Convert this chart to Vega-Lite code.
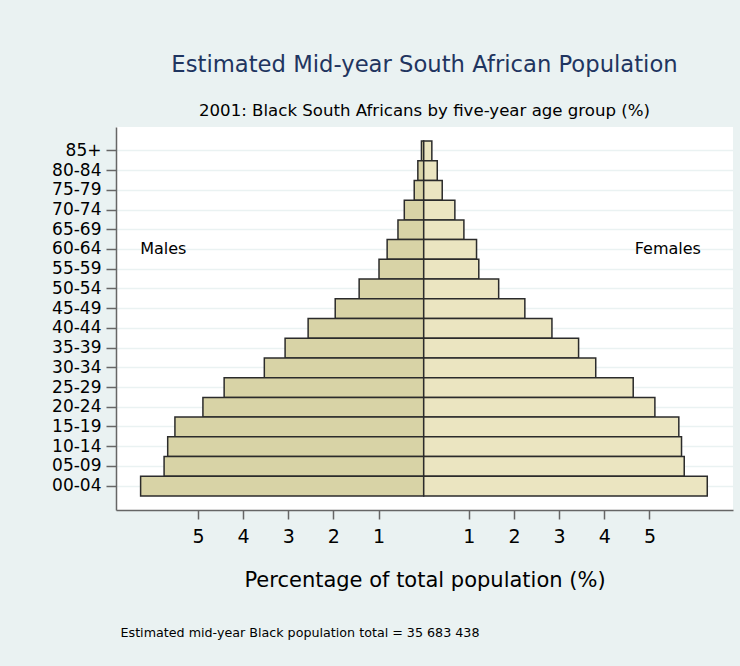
{
  "$schema": "https://vega.github.io/schema/vega-lite/v6.json",
  "width": 617,
  "height": 383,
  "autosize": {"type": "none"},
  "padding": {"left": 116, "top": 127, "right": 7, "bottom": 156},
  "background": "#eaf2f2",
  "config": {
    "view": {"fill": "white", "stroke": null},
    "font": "DejaVu Sans"
  },
  "title": {
    "text": "Estimated Mid-year South African Population",
    "subtitle": "2001: Black South Africans by five-year age group (%)",
    "anchor": "middle",
    "fontSize": 22.7,
    "fontWeight": "normal",
    "color": "#1f3560",
    "subtitleFontSize": 16.6,
    "subtitleColor": "black",
    "offset": 7,
    "subtitlePadding": 27
  },
  "datasets": {
    "pop": [
      {"age": "85+", "sex": "Males", "value": -0.05},
      {"age": "85+", "sex": "Females", "value": 0.18},
      {"age": "80-84", "sex": "Males", "value": -0.13},
      {"age": "80-84", "sex": "Females", "value": 0.30},
      {"age": "75-79", "sex": "Males", "value": -0.21},
      {"age": "75-79", "sex": "Females", "value": 0.41},
      {"age": "70-74", "sex": "Males", "value": -0.43},
      {"age": "70-74", "sex": "Females", "value": 0.69},
      {"age": "65-69", "sex": "Males", "value": -0.57},
      {"age": "65-69", "sex": "Females", "value": 0.89},
      {"age": "60-64", "sex": "Males", "value": -0.81},
      {"age": "60-64", "sex": "Females", "value": 1.17},
      {"age": "55-59", "sex": "Males", "value": -0.99},
      {"age": "55-59", "sex": "Females", "value": 1.22},
      {"age": "50-54", "sex": "Males", "value": -1.43},
      {"age": "50-54", "sex": "Females", "value": 1.66},
      {"age": "45-49", "sex": "Males", "value": -1.96},
      {"age": "45-49", "sex": "Females", "value": 2.24},
      {"age": "40-44", "sex": "Males", "value": -2.56},
      {"age": "40-44", "sex": "Females", "value": 2.84},
      {"age": "35-39", "sex": "Males", "value": -3.07},
      {"age": "35-39", "sex": "Females", "value": 3.43},
      {"age": "30-34", "sex": "Males", "value": -3.53},
      {"age": "30-34", "sex": "Females", "value": 3.81},
      {"age": "25-29", "sex": "Males", "value": -4.42},
      {"age": "25-29", "sex": "Females", "value": 4.64},
      {"age": "20-24", "sex": "Males", "value": -4.89},
      {"age": "20-24", "sex": "Females", "value": 5.12},
      {"age": "15-19", "sex": "Males", "value": -5.51},
      {"age": "15-19", "sex": "Females", "value": 5.65},
      {"age": "10-14", "sex": "Males", "value": -5.67},
      {"age": "10-14", "sex": "Females", "value": 5.71},
      {"age": "05-09", "sex": "Males", "value": -5.75},
      {"age": "05-09", "sex": "Females", "value": 5.77},
      {"age": "00-04", "sex": "Males", "value": -6.27},
      {"age": "00-04", "sex": "Females", "value": 6.28}
    ]
  },
  "layer": [
    {
      "data": {"name": "pop"},
      "mark": {"type": "bar", "stroke": "#2b2b2b", "strokeWidth": 1.5},
      "encoding": {
        "y": {
          "field": "age",
          "type": "nominal",
          "scale": {
            "domain": ["85+", "80-84", "75-79", "70-74", "65-69", "60-64", "55-59", "50-54", "45-49", "40-44", "35-39", "30-34", "25-29", "20-24", "15-19", "10-14", "05-09", "00-04"],
            "paddingInner": 0,
            "paddingOuter": 0.71
          },
          "axis": {
            "title": "Estimated mid-year Black population total = 35 683 438",
            "titleAngle": 0,
            "titleAlign": "left",
            "titleBaseline": "middle",
            "titleX": 4,
            "titleY": 505,
            "titleFontSize": 12.7,
            "titleFontWeight": "normal",
            "titleColor": "black",
            "labelFontSize": 17,
            "labelColor": "black",
            "labelPadding": 5,
            "tickSize": 10,
            "tickColor": "#666666",
            "tickWidth": 1.5,
            "domainColor": "#666666",
            "domainWidth": 1.5,
            "grid": true,
            "gridColor": "#eaf2f2",
            "gridWidth": 1.5
          }
        },
        "x": {
          "field": "value",
          "type": "quantitative",
          "scale": {"domain": [-6.815, 6.85], "nice": false, "zero": false},
          "axis": {
            "title": "Percentage of total population (%)",
            "values": [-5, -4, -3, -2, -1, 1, 2, 3, 4, 5],
            "labelExpr": "'' + abs(datum.value)",
            "labelFontSize": 19,
            "labelColor": "black",
            "labelPadding": 8,
            "titleFontSize": 21,
            "titleFontWeight": "normal",
            "titleColor": "black",
            "titlePadding": 23,
            "grid": false,
            "tickSize": 9,
            "tickColor": "#666666",
            "tickWidth": 1.5,
            "domainColor": "#666666",
            "domainWidth": 1.5
          }
        },
        "color": {
          "field": "sex",
          "type": "nominal",
          "scale": {"domain": ["Males", "Females"], "range": ["#d8d3a6", "#ebe5c1"]},
          "legend": null
        }
      }
    },
    {
      "data": {"values": [{"age": "60-64", "value": -6.28, "label": "Males"}]},
      "mark": {"type": "text", "fontSize": 16, "align": "left", "baseline": "middle", "color": "black"},
      "encoding": {
        "y": {"field": "age", "type": "nominal"},
        "x": {"field": "value", "type": "quantitative"},
        "text": {"field": "label"}
      }
    },
    {
      "data": {"values": [{"age": "60-64", "value": 6.14, "label": "Females"}]},
      "mark": {"type": "text", "fontSize": 16, "align": "right", "baseline": "middle", "color": "black"},
      "encoding": {
        "y": {"field": "age", "type": "nominal"},
        "x": {"field": "value", "type": "quantitative"},
        "text": {"field": "label"}
      }
    }
  ]
}
